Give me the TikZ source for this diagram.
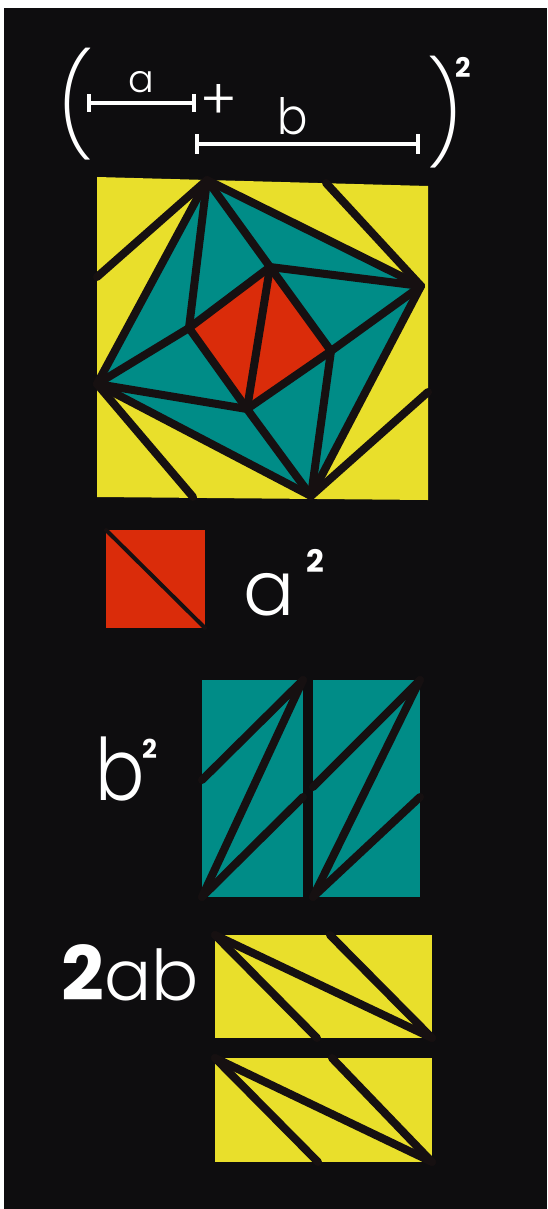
\documentclass[tikz,border=0pt]{standalone}
\usepackage{fontspec}
\setmainfont{Poppins}
\newfontfamily\thinfont{Poppins Light}
\newfontfamily\xthinfont{Poppins ExtraLight}
\definecolor{bg}{HTML}{0E0D0F}
\definecolor{sepblack}{HTML}{161011}
\definecolor{yel}{HTML}{E9DF2B}
\definecolor{tealc}{HTML}{008C87}
\definecolor{redc}{HTML}{DA2C0A}
\begin{document}
\begin{tikzpicture}[x=1pt,y=-1pt,
  sep/.style={line width=8pt, draw=sepblack, line cap=round, line join=round},
  thinsep/.style={line width=4pt, draw=sepblack, line cap=round},
  wline/.style={draw=white, line width=3.5pt},
  lbl/.style={text=white, inner sep=0pt, anchor=base west},
]
\useasboundingbox (0,0) rectangle (547,1209);
\fill[white] (0,0) rectangle (547,1209);
\fill[bg] (4,8) rectangle (547,1209);

% ---------- formula (a+b)^2 ----------
\node[lbl, anchor=center, font=\xthinfont\fontsize{100}{100}\selectfont] (lpar) at (76,104) {(};
\node[lbl, anchor=center, font=\xthinfont\fontsize{100}{100}\selectfont] (rpar) at (444,112) {)};
\node[lbl, font=\bfseries\fontsize{27}{27}\selectfont] (sq) at (455,78) {2};
\node[lbl, font=\thinfont\fontsize{38}{38}\selectfont] (ta) at (128,93) {a};
\node[lbl, anchor=center, font=\thinfont\fontsize{56}{56}\selectfont] (tplus) at (219,102) {+};
\node[lbl, font=\thinfont\fontsize{50}{50}\selectfont, xscale=0.9] (tb) at (277,135) {b};
\coordinate (aL) at (89,103); \coordinate (aR) at (194,103);
\coordinate (bL) at (197,144); \coordinate (bR) at (418,144);
\draw[wline] (aL) -- (aR);
\draw[wline] ([yshift=-9pt]aL) -- ([yshift=9pt]aL);
\draw[wline] ([yshift=-9pt]aR) -- ([yshift=9pt]aR);
\draw[wline] (bL) -- (bR);
\draw[wline] ([yshift=-10pt]bL) -- ([yshift=10pt]bL);
\draw[wline] ([yshift=-10pt]bR) -- ([yshift=10pt]bR);

% ---------- big square ----------
\coordinate (C1) at (97,177); \coordinate (C2) at (428,186);
\coordinate (C3) at (428,500); \coordinate (C4) at (97,497);
\coordinate (P1) at (207,180); \coordinate (P2) at (421,286);
\coordinate (P3) at (311,496); \coordinate (P4) at (97,384);
\coordinate (Rt) at (270,267); \coordinate (Rr) at (331,351);
\coordinate (Rb) at (247,409); \coordinate (Rl) at (189,328);
\coordinate (Q1) at (97,277); \coordinate (Q2) at (326,183);
\coordinate (Q3) at (428,392); \coordinate (Q4) at (193,497);
\fill[yel] (C1) -- (C2) -- (C3) -- (C4) -- cycle;
\fill[tealc] (P1) -- (P2) -- (P3) -- (P4) -- cycle;
\fill[redc] (Rt) -- (Rr) -- (Rb) -- (Rl) -- cycle;
\draw[sep] (P1) -- (P2) -- (P3) -- (P4) -- cycle;
\draw[sep] (Rt) -- (Rr) -- (Rb) -- (Rl) -- cycle;
\draw[sep] (Rt) -- (Rb);
\draw[sep] (P1) -- (Rl); \draw[sep] (P1) -- (Rt);
\draw[sep] (P2) -- (Rt); \draw[sep] (P2) -- (Rr);
\draw[sep] (P3) -- (Rr); \draw[sep] (P3) -- (Rb);
\draw[sep] (P4) -- (Rb); \draw[sep] (P4) -- (Rl);
\draw[sep] (P1) -- (Q1); \draw[sep] (Q2) -- (P2);
\draw[sep] (Q3) -- (P3); \draw[sep] (P4) -- (Q4);

% ---------- a^2 ----------
\coordinate (A1) at (106,530); \coordinate (A3) at (205,628);
\fill[redc] (A1) rectangle (A3);
\draw[thinsep] (A1) -- (A3);
\node[lbl, font=\thinfont\fontsize{76}{76}\selectfont] (la) at (243,615) {a};
\node[lbl, font=\bfseries\fontsize{31}{31}\selectfont] (la2) at (306,572) {2};

% ---------- b^2 ----------
\coordinate (B1) at (202,680); \coordinate (B2) at (303,680);
\coordinate (B3) at (303,897); \coordinate (B4) at (202,897);
\coordinate (B5) at (313,680); \coordinate (B6) at (420,680);
\coordinate (B7) at (420,897); \coordinate (B8) at (313,897);
\fill[tealc] (B1) rectangle (B3);
\fill[tealc] (B5) rectangle (B7);
\draw[sep] (B2) -- (202,780); \draw[sep] (B2) -- (B4); \draw[sep] (B4) -- (303,797);
\draw[sep] (313,787) -- (B6); \draw[sep] (B6) -- (B8); \draw[sep] (B8) -- (420,797);
\node[lbl, font=\thinfont\fontsize{86}{86}\selectfont, xscale=0.85] (lb) at (95,800) {b};
\node[lbl, font=\bfseries\fontsize{26}{26}\selectfont] (lb2) at (142,758) {2};

% ---------- 2ab ----------
\coordinate (T1) at (215,935); \coordinate (T2) at (432,935);
\coordinate (T3) at (432,1038); \coordinate (T4) at (215,1038);
\coordinate (U1) at (215,1058); \coordinate (U2) at (432,1058);
\coordinate (U3) at (432,1162); \coordinate (U4) at (215,1162);
\fill[yel] (T1) rectangle (T3);
\fill[yel] (U1) rectangle (U3);
\draw[sep] (T1) -- (317,1038); \draw[sep] (T1) -- (T3); \draw[sep] (330,935) -- (T3);
\draw[sep] (U1) -- (318,1162); \draw[sep] (U1) -- (U3); \draw[sep] (332,1058) -- (U3);
\node[lbl] (l2ab) at (61,1000) {{\bfseries\fontsize{75}{75}\selectfont 2}{\thinfont\fontsize{70}{70}\selectfont ab}};
\end{tikzpicture}
\end{document}
